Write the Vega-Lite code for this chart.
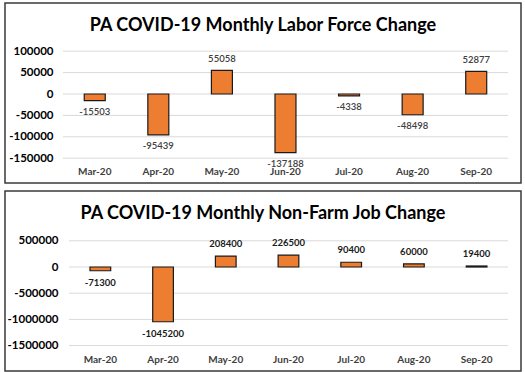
{
  "$schema": "https://vega.github.io/schema/vega-lite/v6.json",
  "padding": {"left": 4, "top": 2, "right": 0, "bottom": 0},
  "spacing": 6,
  "background": "white",
  "config": {
    "view": {"stroke": "#3a3a3a", "strokeWidth": 1.5},
    "font": "Lato",
    "text": {"font": "Lato"},
    "locale": {"number": {"decimal": ".", "thousands": ",", "grouping": [3], "currency": ["$", ""], "minus": "-"}}
  },
  "vconcat": [
    {
      "width": 516,
      "height": 180,
      "title": {"text": "PA COVID-19 Monthly Labor Force Change", "font": "Lato", "fontSize": 18, "fontWeight": "bold", "color": "#000000", "anchor": "middle", "offset": -32},
      "data": {"values": [
        {"month": "Mar-20", "change": -15503},
        {"month": "Apr-20", "change": -95439},
        {"month": "May-20", "change": 55058},
        {"month": "Jun-20", "change": -137188},
        {"month": "Jul-20", "change": -4338},
        {"month": "Aug-20", "change": -48498},
        {"month": "Sep-20", "change": 52877}
      ]},
      "encoding": {
        "x": {"field": "month", "type": "nominal", "sort": null,
          "scale": {"domain": ["Mar-20", "Apr-20", "May-20", "Jun-20", "Jul-20", "Aug-20", "Sep-20"], "paddingInner": 0.67, "paddingOuter": 0.893, "align": 0.698},
          "axis": {"orient": "bottom", "offset": -20, "domain": false, "ticks": false, "labelPadding": 3, "labelAngle": 0, "title": null, "labelFont": "Lato", "labelFontWeight": "bold", "labelFontSize": 10, "labelColor": "#404040", "grid": false}},
        "y": {"field": "change", "type": "quantitative",
          "scale": {"domain": [-207944, 212617], "nice": false},
          "axis": {"values": [-150000, -100000, -50000, 0, 50000, 100000], "format": "d", "orient": "left", "offset": -58, "domain": false, "ticks": false, "labelPadding": 10, "grid": false, "title": null, "labelFont": "Lato", "labelFontWeight": "bold", "labelFontSize": 11.5, "labelColor": "#000000"}}
      },
      "layer": [
        {"data": {"values": [{"change": -150000}, {"change": -100000}, {"change": -50000}, {"change": 0}, {"change": 50000}, {"change": 100000}]},
          "mark": {"type": "rule", "color": "#d9d9d9", "strokeWidth": 1},
          "encoding": {"x": {"datum": "Mar-20", "bandPosition": -1.015}, "x2": {"datum": "Sep-20", "bandPosition": 2.015}}},
        {"mark": {"type": "bar", "color": "#ED7D31", "stroke": "#1a1a1a", "strokeWidth": 1.2}, "encoding": {"y2": {"datum": 0}}},
        {"transform": [{"filter": "datum.change >= 0"}],
          "mark": {"type": "text", "baseline": "middle", "dy": -11, "fontSize": 9.5, "fontWeight": 600, "color": "#404040"},
          "encoding": {"text": {"field": "change", "type": "quantitative", "format": "d"}}},
        {"transform": [{"filter": "datum.change < 0"}],
          "mark": {"type": "text", "baseline": "middle", "dy": 11, "fontSize": 9.5, "fontWeight": 600, "color": "#404040"},
          "encoding": {"text": {"field": "change", "type": "quantitative", "format": "d"}}}
      ]
    },
    {
      "width": 516,
      "height": 180,
      "title": {"text": "PA COVID-19 Monthly Non-Farm Job Change", "font": "Lato", "fontSize": 18, "fontWeight": "bold", "color": "#000000", "anchor": "middle", "offset": -32},
      "data": {"values": [
        {"month": "Mar-20", "change": -71300},
        {"month": "Apr-20", "change": -1045200},
        {"month": "May-20", "change": 208400},
        {"month": "Jun-20", "change": 226500},
        {"month": "Jul-20", "change": 90400},
        {"month": "Aug-20", "change": 60000},
        {"month": "Sep-20", "change": 19400}
      ]},
      "encoding": {
        "x": {"field": "month", "type": "nominal", "sort": null,
          "scale": {"domain": ["Mar-20", "Apr-20", "May-20", "Jun-20", "Jul-20", "Aug-20", "Sep-20"], "paddingInner": 0.67, "paddingOuter": 0.949, "align": 0.714},
          "axis": {"orient": "bottom", "offset": -20, "domain": false, "ticks": false, "labelPadding": 3, "labelAngle": 0, "title": null, "labelFont": "Lato", "labelFontWeight": "bold", "labelFontSize": 10, "labelColor": "#404040", "grid": false}},
        "y": {"field": "change", "type": "quantitative",
          "scale": {"domain": [-1984733, 1450382], "nice": false},
          "axis": {"values": [-1500000, -1000000, -500000, 0, 500000], "format": "d", "orient": "left", "offset": -64, "domain": false, "ticks": false, "labelPadding": 11, "grid": false, "title": null, "labelFont": "Lato", "labelFontWeight": "bold", "labelFontSize": 11.5, "labelColor": "#000000"}}
      },
      "layer": [
        {"data": {"values": [{"change": -1500000}, {"change": -1000000}, {"change": -500000}, {"change": 0}, {"change": 500000}]},
          "mark": {"type": "rule", "color": "#d9d9d9", "strokeWidth": 1},
          "encoding": {"x": {"datum": "Mar-20", "bandPosition": -1.015}, "x2": {"datum": "Sep-20", "bandPosition": 2.015}}},
        {"mark": {"type": "bar", "color": "#ED7D31", "stroke": "#1a1a1a", "strokeWidth": 1.2}, "encoding": {"y2": {"datum": 0}}},
        {"transform": [{"filter": "datum.change >= 0"}],
          "mark": {"type": "text", "baseline": "middle", "dy": -12, "fontSize": 9.5, "fontWeight": "bold", "color": "#1a1a1a"},
          "encoding": {"text": {"field": "change", "type": "quantitative", "format": "d"}}},
        {"transform": [{"filter": "datum.change < 0"}],
          "mark": {"type": "text", "baseline": "middle", "dy": 12, "fontSize": 9.5, "fontWeight": "bold", "color": "#1a1a1a"},
          "encoding": {"text": {"field": "change", "type": "quantitative", "format": "d"}}}
      ]
    }
  ]
}
